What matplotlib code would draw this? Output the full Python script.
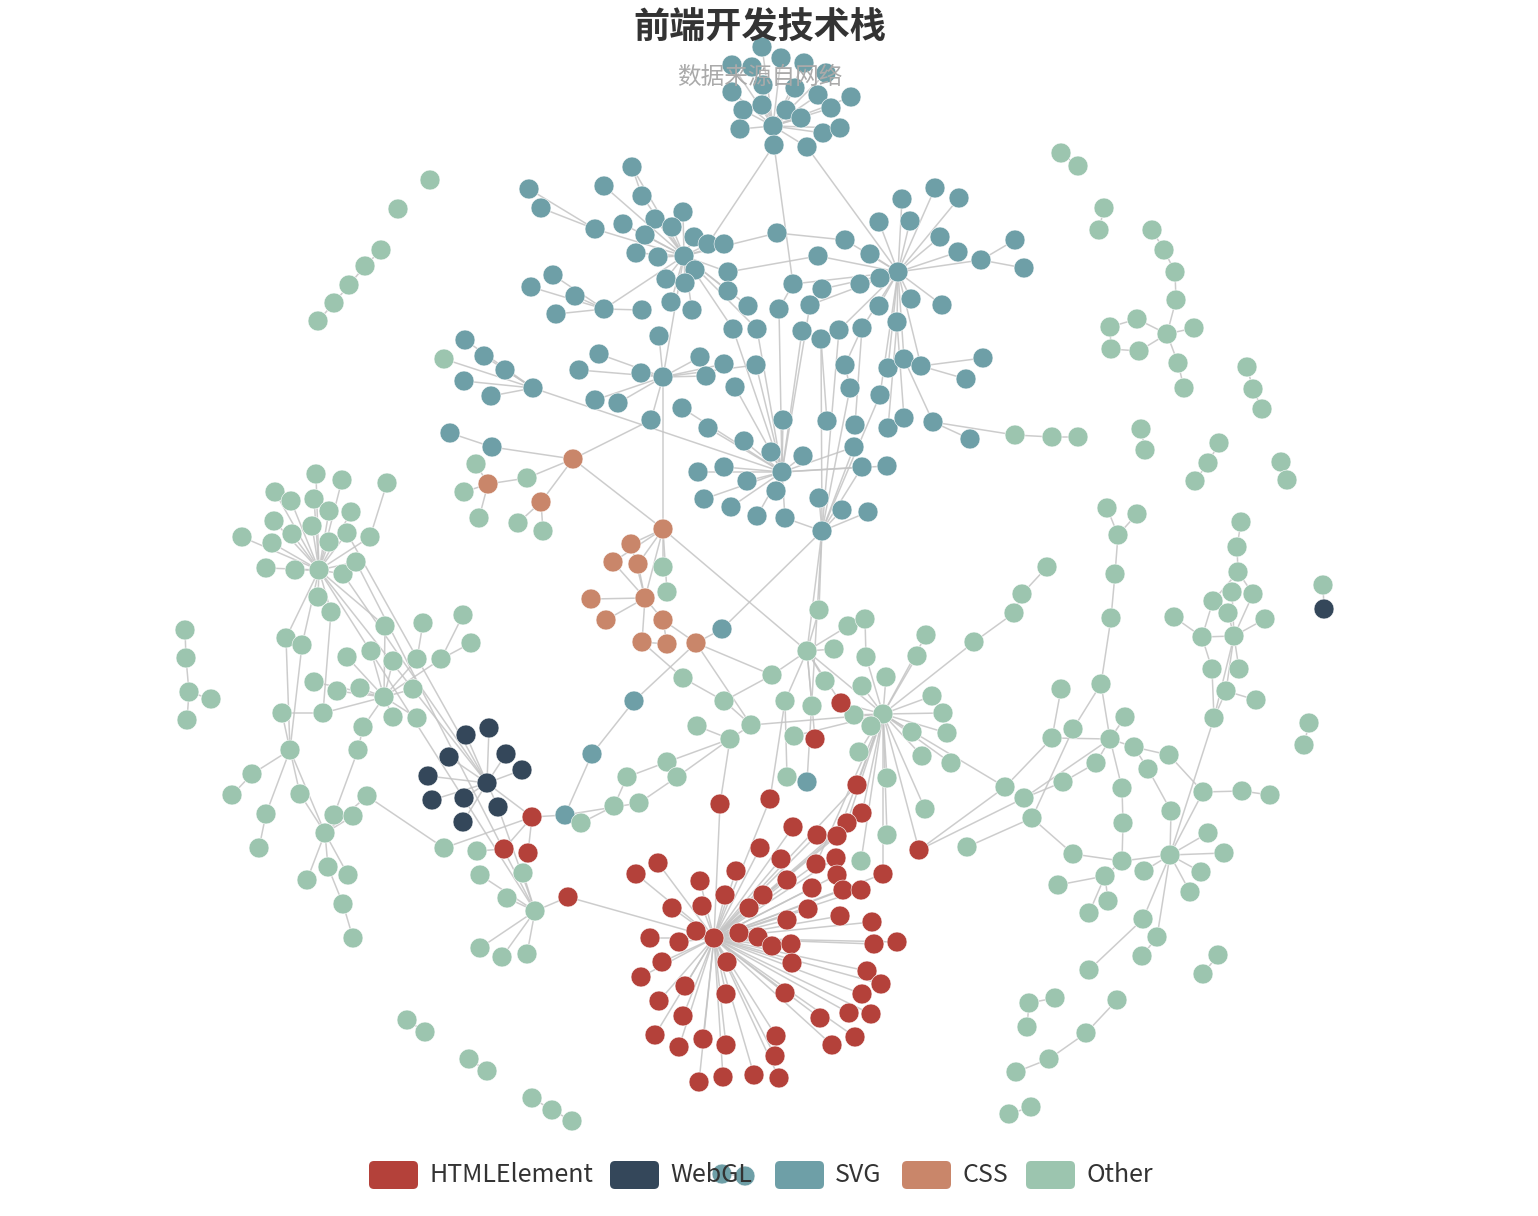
import matplotlib
matplotlib.use("Agg")
import matplotlib.pyplot as plt
from matplotlib.collections import LineCollection
from matplotlib.patches import FancyBboxPatch

plt.rcParams['font.family'] = ['Noto Sans CJK SC', 'DejaVu Sans']

title = '前端开发技术栈'
subtitle = '数据来源自网络'

categories = ['HTMLElement', 'WebGL', 'SVG', 'CSS', 'Other']
cat_codes = ['H', 'W', 'S', 'C', 'O']
cat_colors = ['#b4413a', '#34475a', '#6e9fa7', '#c9866a', '#9cc5af']


def star(hub, kids):
    return [(hub, k) for k in kids]


svg_top = [(762, 47), (732, 65), (752, 67), (781, 58), (804, 63), (826, 73), (732, 92), (763, 85),
           (795, 88), (818, 95), (851, 97), (743, 110), (762, 105), (786, 110), (801, 118), (831, 108),
           (740, 129), (773, 126), (823, 133), (840, 128), (774, 145), (807, 147)]
svg_top_links = star(17, [0, 1, 2, 3, 4, 5, 6, 7, 8, 9, 10, 11, 12, 13, 14, 15, 16, 18, 19, 20, 21])

svg = [
    (529, 189), (541, 208), (632, 167), (604, 186), (642, 196),     # 0-4
    (595, 229), (623, 224), (655, 219), (683, 212), (672, 227),     # 5-9
    (645, 235), (694, 237), (708, 244), (724, 244), (636, 253),     # 10-14
    (658, 257), (684, 256), (695, 270), (728, 272), (666, 279),     # 15-19
    (685, 283), (728, 291), (777, 233), (845, 240), (818, 256),     # 20-24
    (870, 254), (879, 222), (902, 199), (910, 221), (935, 188),     # 25-29
    (959, 198), (940, 237), (958, 252), (981, 260), (1015, 240),    # 30-34
    (1024, 268), (898, 272), (880, 278), (860, 284), (793, 284),    # 35-39
    (822, 289), (810, 305), (879, 306), (911, 299), (942, 305),     # 40-44
    (779, 309), (748, 306), (692, 310), (671, 302), (642, 310),     # 45-49
    (604, 309), (575, 296), (553, 275), (531, 287), (556, 314),     # 50-54
    (659, 336), (733, 329), (757, 329), (802, 331), (821, 339),     # 55-59
    (839, 330), (862, 328), (897, 322), (599, 354), (579, 370),     # 60-64
    (641, 373), (663, 377), (700, 357), (724, 364), (706, 376),     # 65-69
    (756, 365), (735, 387), (595, 400), (618, 403), (651, 420),     # 70-74
    (682, 408), (708, 428), (783, 420), (827, 421), (855, 425),     # 75-79
    (888, 428), (904, 418), (933, 422), (845, 365), (888, 368),     # 80-84
    (904, 359), (921, 366), (850, 388), (880, 395), (854, 447),     # 85-89
    (744, 441), (771, 452), (803, 456), (782, 472), (698, 472),     # 90-94
    (724, 467), (747, 481), (776, 491), (862, 467), (887, 466),     # 95-99
    (704, 499), (731, 507), (757, 516), (785, 518), (819, 498),     # 100-104
    (842, 510), (868, 512), (822, 531), (983, 358), (966, 379),     # 105-109
    (970, 439), (465, 340), (484, 356), (505, 370), (533, 388),     # 110-114
    (464, 381), (491, 396), (450, 433), (492, 447), (722, 629),     # 115-119
    (634, 701), (592, 754), (565, 815), (807, 782), (722, 1174),    # 120-124
    (745, 1176)]                                                    # 125
svg_links = (star(16, [2, 3, 4, 5, 6, 7, 8, 9, 10, 11, 12, 13, 14, 15, 17, 18, 19, 20, 21, 22,
                       46, 47, 48, 50, 56, 57])
             + star(5, [0, 1]) + [(2, 4)]
             + star(36, [23, 24, 25, 26, 27, 28, 29, 30, 31, 32, 33, 37, 38, 39, 40, 41, 42, 43, 44,
                         60, 61, 62, 84, 85, 86, 88])
             + [(33, 34), (33, 35), (22, 23), (24, 18), (45, 39)]
             + star(50, [49, 51, 52, 53, 54])
             + star(66, [55, 63, 64, 65, 67, 68, 69, 70, 72, 73, 74, 16])
             + star(93, [70, 71, 75, 76, 77, 89, 90, 91, 92, 94, 95, 96, 97, 98, 99, 100, 101, 102,
                         103, 56, 57, 58, 41, 45])
             + star(107, [103, 104, 105, 106, 98, 89, 59, 60, 87, 88, 119, 123])
             + star(114, [111, 112, 113, 115, 116, 93])
             + [(117, 118), (78, 59), (79, 61), (80, 62), (81, 62), (82, 85), (83, 61), (87, 83),
                (108, 86), (109, 86), (110, 82), (120, 121), (121, 122), (124, 125)])

css = [(573, 459), (488, 484), (541, 502), (663, 529), (631, 544), (613, 562), (638, 564),
       (591, 599), (645, 598), (606, 620), (663, 620), (642, 642), (667, 644), (696, 643),
       (476, 464), (527, 478), (464, 492), (479, 518), (518, 523), (543, 531), (663, 567),
       (667, 592), (444, 359)]
css_cats = 'CCCCCCCCCCCCCCOOOOOOOOO'
css_links = ([(0, 15), (15, 1), (0, 2), (2, 18), (2, 19), (1, 14), (1, 16), (1, 17), (0, 3)]
             + star(3, [4, 5, 6, 20, 21, 8])
             + star(8, [7, 9, 6, 5, 10, 11, 4])
             + [(10, 13), (10, 12), (11, 12)])

mid = [
    (807, 651), (819, 610), (834, 649), (848, 626), (865, 619),     # 0-4
    (866, 657), (825, 681), (862, 686), (886, 677), (883, 714),     # 5-9
    (854, 715), (871, 726), (926, 635), (917, 656), (974, 642),     # 10-14
    (932, 696), (943, 713), (947, 733), (912, 732), (922, 756),     # 15-19
    (951, 763), (859, 752), (887, 778), (772, 675), (785, 701),     # 20-24
    (812, 706), (794, 736), (751, 725), (730, 739), (724, 701),     # 25-29
    (697, 726), (683, 678), (667, 762), (677, 777), (627, 777),     # 30-34
    (614, 806), (639, 803), (581, 823), (787, 777), (887, 835),     # 35-39
    (925, 809), (861, 861), (1047, 567), (1022, 594), (1014, 613),  # 40-44
    (1015, 435), (1052, 437), (1078, 437), (967, 847)]              # 45-48
mid_links = (star(0, [1, 2, 3, 6, 23, 24, 25, 9]) + [(3, 4), (4, 5)]
             + star(9, [5, 7, 8, 10, 11, 12, 13, 14, 15, 16, 17, 18, 19, 20, 21, 22, 26, 27,
                        39, 40, 41])
             + [(23, 29), (29, 31), (29, 27), (27, 28), (28, 30), (32, 34), (32, 28), (33, 28),
                (34, 35), (36, 33), (37, 35), (38, 24), (42, 43), (43, 44), (44, 14), (46, 45),
                (47, 46)])

red = [
    (714, 938), (841, 703), (815, 739), (857, 785), (770, 799),     # 0-4
    (720, 804), (862, 813), (847, 823), (793, 827), (817, 835),     # 5-9
    (837, 836), (919, 850), (760, 848), (781, 859), (836, 858),     # 10-14
    (816, 864), (837, 875), (883, 874), (658, 863), (636, 874),     # 15-19
    (736, 871), (700, 881), (787, 880), (812, 888), (843, 890),     # 20-24
    (861, 890), (725, 895), (763, 895), (702, 906), (749, 908),     # 25-29
    (808, 909), (840, 916), (672, 908), (787, 920), (872, 922),     # 30-34
    (696, 931), (739, 933), (758, 937), (772, 946), (791, 944),     # 35-39
    (650, 938), (679, 942), (874, 944), (897, 942), (662, 962),     # 40-44
    (727, 962), (792, 963), (641, 977), (867, 971), (881, 984),     # 45-49
    (685, 986), (862, 994), (659, 1001), (726, 994), (785, 993),    # 50-54
    (683, 1016), (849, 1013), (871, 1014), (820, 1018), (655, 1035),  # 55-59
    (703, 1039), (726, 1045), (776, 1036), (855, 1037), (832, 1045),  # 60-64
    (679, 1047), (775, 1056), (699, 1082), (723, 1077), (754, 1075),  # 65-69
    (779, 1078), (532, 817), (504, 849), (528, 853), (568, 897)]      # 70-74
red_links = (star(0, [3, 4, 5, 6, 7, 8, 9, 10, 12, 13, 14, 15, 16, 17, 18, 19, 20, 21, 22, 23,
                      24, 25, 26, 27, 28, 29, 30, 31, 32, 33, 34, 35, 36, 37, 38, 39, 40, 41, 42,
                      43, 44, 45, 46, 47, 48, 49, 50, 51, 52, 53, 54, 55, 56, 57, 58, 59, 60, 61,
                      62, 63, 64, 65, 66, 67, 68, 69, 70, 74])
             + [(71, 72), (71, 73)])

webgl = [(487, 783), (466, 735), (489, 728), (449, 757), (506, 754), (522, 770), (428, 776),
         (432, 800), (464, 798), (498, 807), (463, 822), (1324, 609)]
webgl_links = star(0, [1, 2, 3, 4, 5, 6, 7, 8, 9, 10])

left = [
    (316, 474), (342, 480), (387, 483), (275, 492), (291, 501),     # 0-4
    (314, 499), (329, 511), (351, 512), (274, 521), (312, 526),     # 5-9
    (242, 537), (272, 543), (292, 534), (347, 533), (329, 542),     # 10-14
    (370, 537), (266, 568), (295, 570), (319, 570), (343, 574),     # 15-19
    (356, 562), (318, 597), (331, 612), (385, 626), (423, 623),     # 20-24
    (463, 615), (471, 643), (286, 638), (302, 645), (347, 657),     # 25-29
    (371, 651), (393, 661), (417, 659), (441, 659), (314, 682),     # 30-34
    (337, 691), (360, 688), (384, 697), (413, 689), (282, 713),     # 35-39
    (323, 713), (393, 717), (417, 718), (363, 727), (290, 750),     # 40-44
    (252, 774), (232, 795), (266, 814), (259, 848), (300, 794),     # 45-49
    (325, 833), (328, 867), (307, 880), (348, 875), (343, 904),     # 50-54
    (353, 938), (358, 750), (367, 796), (334, 815), (353, 816),     # 55-59
    (185, 630), (186, 658), (189, 692), (211, 699), (187, 720)]     # 60-64
left_links = (star(18, [0, 1, 3, 4, 5, 6, 7, 8, 9, 10, 11, 12, 13, 14, 15, 16, 17, 19, 20, 21,
                        22, 23, 27, 28])
              + [(2, 15), (23, 37), (24, 32), (25, 33), (26, 33), (33, 37), (32, 37)]
              + star(37, [29, 30, 31, 34, 35, 36, 38, 41, 42, 43, 40])
              + [(22, 40), (39, 40), (27, 44), (28, 44)]
              + star(44, [39, 45, 47, 49, 50]) + [(45, 46), (47, 48), (56, 43), (56, 58)]
              + star(50, [49, 51, 52, 53, 58, 59, 57]) + [(54, 51), (55, 54)]
              + [(60, 61), (61, 62), (62, 64), (62, 63)])

bottom = [(444, 848), (477, 851), (480, 875), (523, 873), (507, 898), (535, 911), (480, 948),
          (502, 957), (527, 954)]
bottom_links = star(5, [2, 3, 4, 6, 7, 8])

right = [
    (1107, 508), (1137, 514), (1118, 535), (1115, 574), (1111, 618),    # 0-4
    (1101, 684), (1061, 689), (1125, 717), (1073, 729), (1052, 738),    # 5-9
    (1110, 739), (1134, 747), (1169, 755), (1148, 769), (1096, 763),    # 10-14
    (1063, 782), (1005, 787), (1024, 798), (1032, 818), (1122, 788),    # 15-19
    (1171, 811), (1203, 792), (1242, 791), (1270, 795), (1123, 823),    # 20-24
    (1208, 833), (1224, 853), (1170, 855), (1073, 854), (1122, 861),    # 25-29
    (1144, 871), (1105, 876), (1201, 872), (1190, 892), (1058, 885),    # 30-34
    (1108, 901), (1089, 913), (1143, 919), (1157, 937), (1142, 956),    # 35-39
    (1218, 955), (1203, 974), (1089, 970), (1055, 998), (1029, 1003),   # 40-44
    (1027, 1027), (1117, 1000), (1086, 1033), (1049, 1059), (1016, 1072),  # 45-49
    (1031, 1107), (1009, 1114)]                                           # 50-51
right_links = ([(0, 2), (1, 2), (2, 3), (3, 4), (4, 5), (5, 10), (5, 8), (6, 9), (9, 16), (8, 18),
                (7, 10), (10, 11), (10, 9), (10, 14), (10, 19), (10, 17), (11, 12), (11, 13),
                (12, 21), (13, 20), (14, 15), (15, 17), (19, 24), (24, 29), (20, 27), (21, 22),
                (22, 23), (21, 27)]
               + star(27, [25, 26, 32, 33, 30, 29, 38, 37])
               + [(29, 28), (28, 18), (29, 31), (31, 34), (31, 35), (31, 36), (38, 39), (37, 42),
                  (43, 44), (44, 45), (46, 47), (47, 48), (48, 49), (50, 51), (40, 41)])

top_right = [(1152, 230), (1164, 250), (1175, 272), (1176, 300), (1167, 334), (1194, 328),
             (1137, 319), (1110, 327), (1111, 349), (1139, 351), (1178, 363), (1184, 388)]
top_right_links = [(0, 1), (1, 2), (2, 3), (3, 4), (4, 5), (4, 6), (6, 7), (7, 8), (8, 9), (9, 4),
                   (4, 10), (10, 11)]

side = [(1241, 522), (1237, 547), (1238, 572), (1232, 592), (1253, 594), (1213, 601), (1228, 613),
        (1265, 619), (1174, 617), (1202, 637), (1234, 636), (1212, 669), (1239, 669), (1226, 691),
        (1256, 700), (1214, 718)]
side_links = [(0, 1), (1, 2), (2, 4), (2, 5), (5, 9), (8, 9), (9, 10), (10, 7), (10, 4), (10, 3),
              (10, 6), (9, 11), (10, 13), (10, 12), (13, 14), (11, 15), (13, 15), (10, 15)]

loose = [(430, 180), (398, 209), (381, 250), (365, 266), (349, 285), (334, 303), (318, 321),
         (407, 1020), (425, 1032), (469, 1059), (487, 1071), (532, 1098), (552, 1110), (572, 1121),
         (1061, 153), (1078, 166), (1104, 208), (1099, 230), (1247, 367), (1253, 389), (1262, 409),
         (1141, 429), (1145, 450), (1219, 443), (1208, 463), (1195, 481), (1281, 462), (1287, 480),
         (1323, 585), (1309, 723), (1304, 745)]
loose_links = [(2, 3), (3, 4), (4, 5), (5, 6), (7, 8), (9, 10), (11, 12), (12, 13), (14, 15),
               (16, 17), (18, 19), (19, 20), (21, 22), (23, 24), (24, 25), (26, 27), (29, 30)]

cross_links = [
    ('svg_top', 20, 'svg', 12), ('svg_top', 20, 'svg', 39), ('svg_top', 21, 'svg', 36),
    ('svg', 118, 'css', 0), ('css', 0, 'svg', 74), ('css', 3, 'svg', 66), ('css', 13, 'svg', 119),
    ('css', 13, 'svg', 120), ('css', 22, 'svg', 114), ('css', 3, 'mid', 0), ('css', 11, 'mid', 31),
    ('css', 13, 'mid', 23), ('css', 13, 'mid', 27), ('svg', 107, 'mid', 0), ('svg', 107, 'mid', 1),
    ('svg', 82, 'mid', 45), ('red', 1, 'mid', 0), ('red', 2, 'mid', 0), ('red', 1, 'mid', 9),
    ('red', 3, 'mid', 9), ('red', 6, 'mid', 9), ('red', 7, 'mid', 9), ('red', 10, 'mid', 9),
    ('red', 15, 'mid', 9), ('red', 17, 'mid', 9), ('red', 11, 'mid', 9), ('red', 11, 'right', 16),
    ('red', 5, 'mid', 28), ('red', 4, 'mid', 24),
    ('left', 18, 'webgl', 0), ('left', 19, 'webgl', 0), ('left', 18, 'bottom', 5),
    ('left', 13, 'webgl', 0), ('left', 20, 'bottom', 5),
    ('webgl', 0, 'red', 71), ('webgl', 9, 'bottom', 5), ('red', 71, 'svg', 122),
    ('red', 74, 'bottom', 5), ('bottom', 0, 'left', 57), ('bottom', 0, 'red', 71),
    ('bottom', 1, 'red', 72), ('bottom', 3, 'red', 73), ('svg', 122, 'mid', 36),
    ('mid', 48, 'right', 18), ('right', 16, 'mid', 9), ('right', 17, 'red', 11),
    ('loose', 28, 'webgl', 11), ('side', 15, 'right', 27),
]

groups = [
    ('svg_top', svg_top, 'S', svg_top_links),
    ('svg', svg, 'S', svg_links),
    ('css', css, css_cats, css_links),
    ('mid', mid, 'O', mid_links),
    ('red', red, 'H', red_links),
    ('webgl', webgl, 'W', webgl_links),
    ('left', left, 'O', left_links),
    ('bottom', bottom, 'O', bottom_links),
    ('right', right, 'O', right_links),
    ('top_right', top_right, 'O', top_right_links),
    ('side', side, 'O', side_links),
    ('loose', loose, 'O', loose_links),
]

# flatten groups into one node list and one segment list
xs, ys, cols = [], [], []
offset = {}
segs = []
for name, pts, cats, links in groups:
    offset[name] = len(xs)
    for i, (x, y) in enumerate(pts):
        c = cats[i] if len(cats) > 1 else cats
        xs.append(x)
        ys.append(y)
        cols.append(cat_colors[cat_codes.index(c)])
    for a, b in links:
        segs.append([pts[a], pts[b]])
for ga, ia, gb, ib in cross_links:
    pa = (xs[offset[ga] + ia], ys[offset[ga] + ia])
    pb = (xs[offset[gb] + ib], ys[offset[gb] + ib])
    segs.append([pa, pb])

W, H = 1538, 1216
fig = plt.figure(figsize=(W / 100, H / 100), dpi=100)
ax = fig.add_axes([0, 0, 1, 1])
ax.set_xlim(0, W)
ax.set_ylim(H, 0)
ax.axis('off')

ax.add_collection(LineCollection(segs, colors='#c4c4c4', linewidths=1.1, alpha=0.85, zorder=1))
ax.scatter(xs, ys, s=205, c=cols, edgecolors='white', linewidths=0.4, zorder=2)

ax.text(760, 28, title, ha='center', va='center', fontsize=26, fontweight='bold',
        color='#333333', zorder=5)
ax.text(760, 77, subtitle, ha='center', va='center', fontsize=17, color='#aaaaaa', zorder=5)

# legend
legend_x = [369, 610, 775, 902, 1026]
for lx, name, col in zip(legend_x, categories, cat_colors):
    box = FancyBboxPatch((lx, 1161), 49, 28, boxstyle='round,pad=0,rounding_size=5',
                         facecolor=col, edgecolor='none', zorder=5)
    ax.add_patch(box)
    ax.text(lx + 60, 1175, name, ha='left', va='center', fontsize=18, color='#333333', zorder=6)

fig.savefig('out.png', dpi=100)
